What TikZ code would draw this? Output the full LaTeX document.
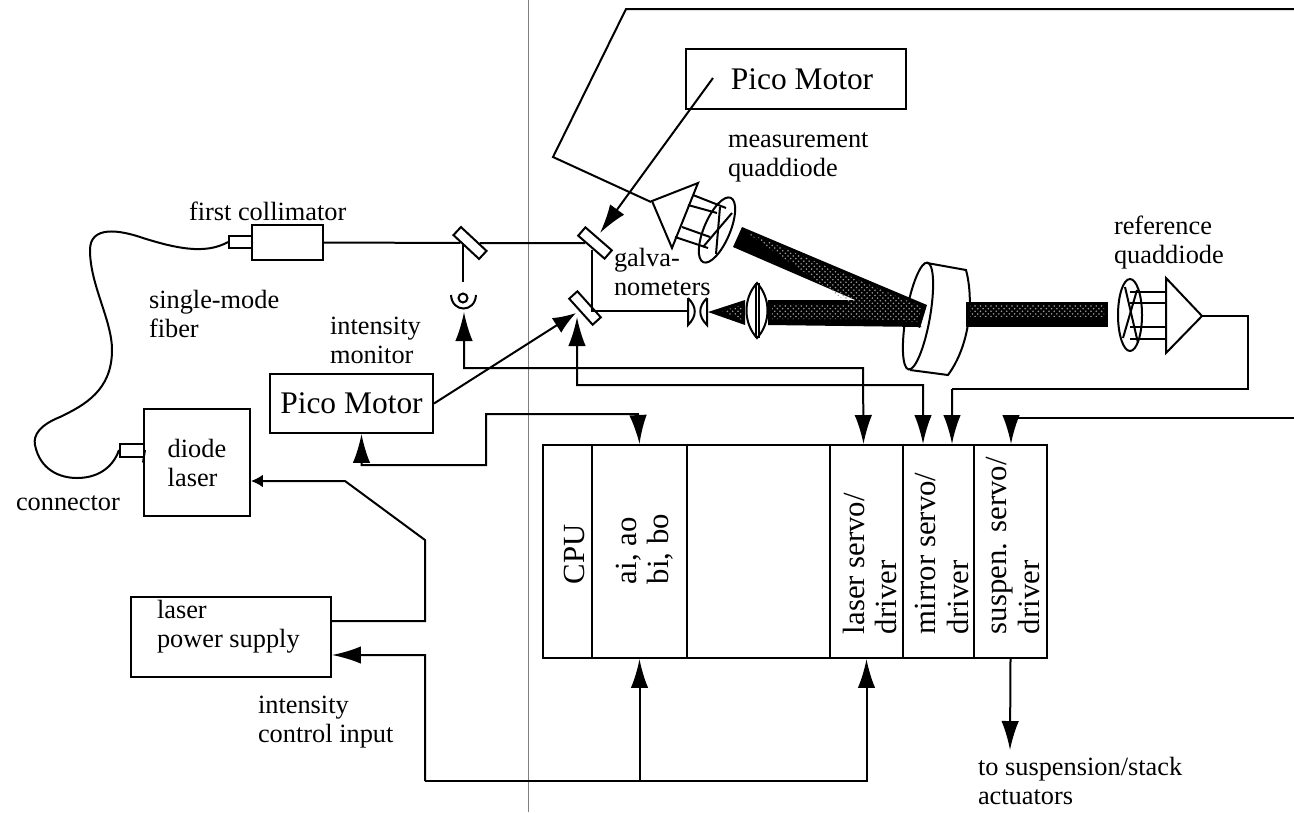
\documentclass[tikz,border=0pt]{standalone}
\usepackage{fontspec}
\setmainfont{Liberation Serif}
\usetikzlibrary{arrows.meta, shapes.geometric, patterns}
\begin{document}
\begin{tikzpicture}[
                x=0.02cm,
                y=-0.02cm,
                line width=0.4mm,
                box/.style={
                    draw,
                    rectangle,
                    inner sep=0pt,
                    align=left,
                    font=\fontsize{15}{16.5}\selectfont
                },
                motorbox/.style={
                    box,
                    font=\fontsize{17.9}{20}\selectfont
                },
                column/.style={
                    box,
                    minimum height=4.26cm
                },
                mirror/.style={
                    draw,
                    rectangle,
                    inner sep=0pt,
                    fill=white,
                    minimum width=7mm,
                    minimum height=2.2mm
                },
                lbl/.style={
                    anchor=west,
                    inner sep=0pt,
                    align=left,
                    font=\fontsize{15}{16.5}\selectfont
                },
                coltext/.style={
                    rotate=90,
                    anchor=west,
                    inner sep=0pt,
                    align=left,
                    font=\fontsize{17.5}{18.3}\selectfont
                },
                arr/.style={
                    -{Latex[length=5.8mm,width=3.5mm]}
                },
                dblarr/.style={
                    {Latex[length=5.8mm,width=3.5mm]}-{Latex[length=5.8mm,width=3.5mm]}
                },
                shortarr/.style={
                    -{Latex[length=4.6mm,width=3.5mm]}
                },
                smallarr/.style={
                    -{Latex[length=2.4mm,width=2.6mm]}
                },
                beam/.style={
                    fill=black,
                    draw=none
                },
                speckle/.style={
                    pattern=crosshatch dots,
                    pattern color=black!40,
                    draw=none
                }
            ]

                \useasboundingbox (0,0) rectangle (1294,812);
                \draw[gray, line width=0.2mm] (528,0) -- (528,812);

                \node[motorbox, minimum width=4.4cm, minimum height=1.2cm] (topmotor) at (796,79) {\hspace*{2.4mm}Pico Motor};
                \node[motorbox, minimum width=3.26cm, minimum height=1.18cm] (lowmotor) at (351.5,403.5) {Pico Motor};
                \node[box, minimum width=1.42cm, minimum height=0.7cm] (coll) at (287.5,242.5) {};
                \node[box, minimum width=0.46cm, minimum height=0.24cm] (collplug) at (240.5,242) {};
                \node[box, minimum width=2.12cm, minimum height=2.14cm] (diode) at (197,462.5) {diode\\laser};
                \node[box, minimum width=0.48cm, minimum height=0.26cm] (diodeplug) at (132,450) {};
                \node[box, minimum width=4cm, minimum height=1.6cm] (psu) at (231,637) {};
                \node[lbl] (psutext) at (156,627) {laser\\power supply};

                \node[column, minimum width=0.98cm] (cpu) at (567.5,551.5) {};
                \node[column, minimum width=1.9cm] (aio) at (639.5,551.5) {};
                \node[column, minimum width=2.86cm] (spare) at (758.5,551.5) {};
                \node[column, minimum width=1.46cm] (lsr) at (866.5,551.5) {};
                \node[column, minimum width=1.42cm] (mir) at (938.5,551.5) {};
                \node[column, minimum width=1.46cm] (susp) at (1010.5,551.5) {};
                \node[coltext] (cputext) at (574,585) {CPU};
                \node[coltext] (aiotext) at (645,585) {ai, ao\\bi, bo};
                \node[coltext] (lsrtext) at (870,635) {laser servo/\\driver};
                \node[coltext] (mirtext) at (942,635) {mirror servo/\\driver};
                \node[coltext] (susptext) at (1013,635) {suspen. servo/\\driver};

                \node[lbl] (measlabel) at (727,157) {measurement\\quaddiode};
                \node[lbl] (reflabel) at (1113,243) {reference\\quaddiode};
                \node[lbl] (colllabel) at (188,211) {first collimator};
                \node[lbl] (fiberlabel) at (148,314) {single-mode\\fiber};
                \node[lbl] (monlabel) at (329,340) {intensity\\monitor};
                \node[lbl] (galvolabel) at (613,272) {galva-\\nometers};
                \node[lbl] (connlabel) at (15,503) {connector};
                \node[lbl] (inputlabel) at (257,722) {intensity\\control input};
                \node[lbl] (stacklabel) at (977,781) {to suspension/stack\\actuators};

                \coordinate (cablein) at (1294,9);
                \coordinate (cablebend) at (626,9);
                \coordinate (cablecorner) at (553,157);
                \coordinate (measout) at (651,202);
                \coordinate (refin) at (1294,418);
                \coordinate (refturn) at (1011,418);
                \coordinate (bus) at (425,781);
                \coordinate (reftail) at (1202,316);
                \coordinate (pdtap) at (463,243);
                \coordinate (pdend) at (463,282);
                \coordinate (pdin) at (464,312);
                \coordinate (galvotap) at (592,250);
                \coordinate (galvoain) at (600,233);
                \coordinate (galvobin) at (577,317);
                \coordinate (galvobtip) at (576,313);
                \coordinate (motorfeed) at (713,78);
                \coordinate (tiltin) at (688,311);
                \coordinate (stackend) at (1010,750);

                \node[draw, ellipse, inner sep=0pt, rotate=80, minimum width=2.17cm, minimum height=0.48cm] (drum) at (918,316) {};
                \draw (927,263) -- (966,270) .. controls (974,300) and (970,345) .. (948,375) -- (910,370);

                \path[beam] (742,227) -- (927,305) -- (920,328) -- (733,247) -- cycle;
                \path[beam] (768,300) -- (860,300) -- (922,327) -- (768,325) -- cycle;
                \path[beam] (708,312) -- (745,300) -- (745,325) -- cycle;
                \path[beam] (966,302) -- (1108,302) -- (1108,327) -- (966,327) -- cycle;
                \path[speckle] (746,232) -- (922,307) -- (917,322) -- (864,319) -- (772,319) -- (772,304) -- (850,304) -- cycle;
                \path[speckle] (970,305) -- (1104,305) -- (1104,316) -- (970,316) -- cycle;
                \path[speckle] (722,311) -- (742,305) -- (742,320) -- cycle;

                \draw[fill=white] (757,283) .. controls (743,298) and (743,323) .. (757,338) .. controls (771,323) and (771,298) .. (757,283) -- cycle;
                \draw (756,283) -- (756,338);
                \draw (759,283) -- (759,338);
                \draw (688,298) -- (688,325) .. controls (697,316) and (697,307) .. (688,298);
                \draw (707,298) -- (707,325) .. controls (698,316) and (698,307) .. (707,298);

                \draw (652,201) -- (698,183) -- (672,248) -- cycle;
                \draw (693,195) -- (726,208);
                \draw (688,205) -- (717,213);
                \draw (682,227) -- (710,237);
                \draw (675,237) -- (708,248);
                \node[draw, ellipse, inner sep=0pt, rotate=67, minimum width=1.4cm, minimum height=0.52cm] (measdiode) at (717,230) {};
                \draw (720,207) -- (716,254);
                \draw (732,213) -- (703,247);

                \draw (1166,278) -- (1166,353) -- (reftail) -- cycle;
                \draw (1130,292) -- (1166,292);
                \draw (1130,303) -- (1166,303);
                \draw (1130,327) -- (1166,327);
                \draw (1130,339) -- (1166,339);
                \node[draw, ellipse, inner sep=0pt, minimum width=0.48cm, minimum height=1.44cm] (refdiode) at (1130,315) {};
                \draw (1125,287) -- (1138,343);
                \draw (1137,290) -- (1123,338);

                \node[mirror, rotate=-43] (split) at (470,243) {};
                \node[mirror, rotate=-41] (galvoa) at (595,243) {};
                \node[mirror, rotate=-48] (galvob) at (585,308) {};
                \node[draw, circle, inner sep=0pt, minimum size=1.8mm] (pd) at (463,298) {};
                \draw (451,295) .. controls (452,313) and (475,313) .. (476,295);

                \draw (coll.east) -- (split);
                \draw (split) -- (galvoa);
                \draw (pdtap) -- (pdend);
                \draw (galvotap) |- (tiltin);
                \draw (collplug.east) -- (coll.west);
                \draw (diodeplug.east) -- (diode.west);
                \draw (collplug.west) .. controls (205,255) and (175,248) .. (143,238)
                    .. controls (120,230) and (90,225) .. (90,250)
                    .. controls (90,285) and (112,320) .. (112,350)
                    .. controls (112,390) and (85,405) .. (60,417)
                    .. controls (40,425) and (33,435) .. (35,445)
                    .. controls (40,470) and (60,478) .. (77,478)
                    .. controls (95,478) and (112,470) .. (diodeplug.west);

                \draw (cablein) -- (cablebend) -- (cablecorner) -- (measout);
                \draw[arr] (motorfeed) -- (galvoain);
                \draw[shortarr] (lowmotor.east) -- (galvobtip);

                \draw[dblarr] (pdin) |- (863,368) -- ([xshift=-0.06cm]lsr.north);
                \draw[arr] (refin) -- (refturn) -- (susp.north -| refturn);
                \draw (reftail) -- (1248,316) -- (1248,389) -- (952,389);
                \draw[arr] (952,389) -- ([xshift=0.27cm]mir.north);
                \draw[dblarr] (galvobin) |- (923,385) -- ([xshift=-0.31cm]mir.north);
                \draw[dblarr] ([xshift=0.2cm]lowmotor.south) |- (486,465) |- (638,414) -- (aio.north);

                \draw[arr] (bus) -- (425,655) -- ([yshift=-0.36cm]psu.east);
                \draw[smallarr] ([yshift=0.32cm]psu.east) -- (425,621) -- (425,540) -- (345,481) -- ([yshift=-0.37cm]diode.east);
                \draw[arr] (bus) -| (lsr.south);
                \draw[arr] (aio.south |- bus) -- (aio.south);
                \draw[arr] (susp.south) -- (stackend);

            \end{tikzpicture}
\end{document}
